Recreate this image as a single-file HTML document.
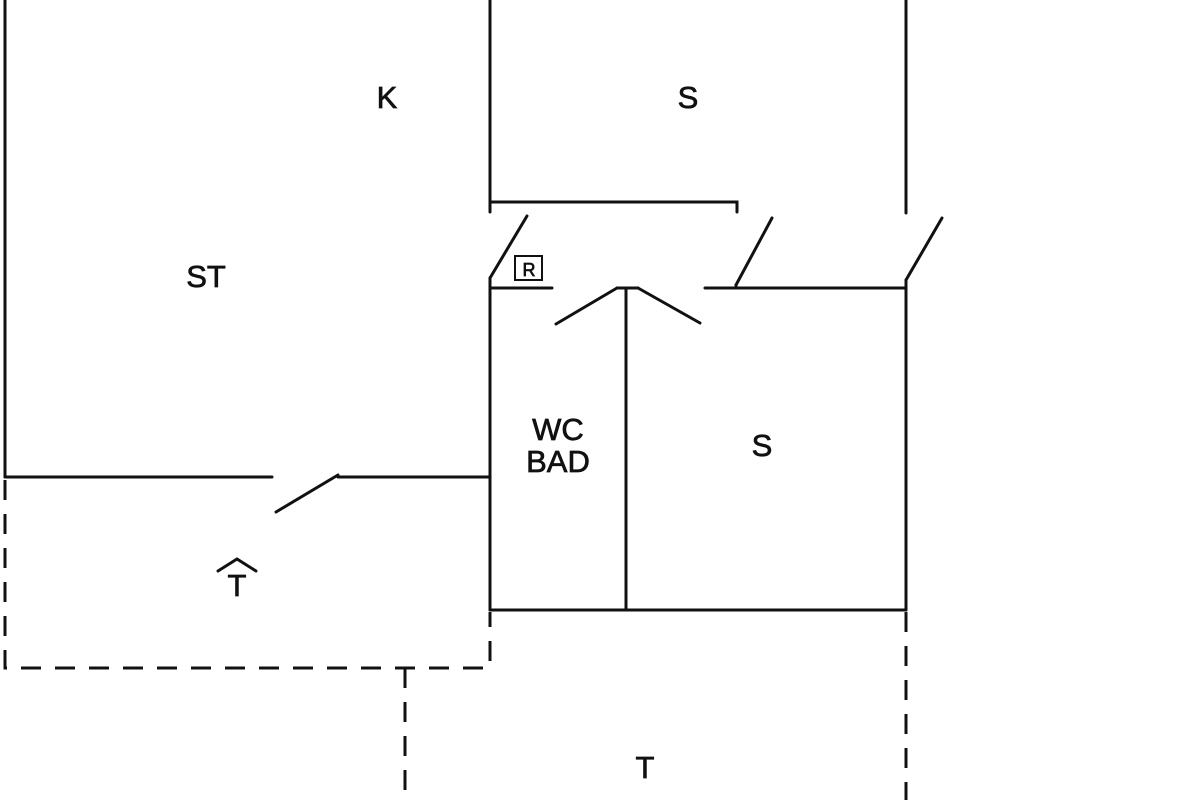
<!DOCTYPE html>
<html><head><meta charset="utf-8"><style>
html,body{margin:0;padding:0;background:#fff;width:1200px;height:800px;overflow:hidden}
text{font-family:"Liberation Sans",sans-serif;font-size:31px;fill:#111;stroke:#111;stroke-width:0.7;text-anchor:middle}
</style></head><body>
<svg width="1200" height="800" viewBox="0 0 1200 800" xmlns="http://www.w3.org/2000/svg">
<g stroke="#111" stroke-width="3" fill="none" stroke-linecap="round">
<line x1="5" y1="0" x2="5" y2="477"/>
<line x1="490" y1="0" x2="490" y2="210"/>
<polyline points="490,212 490,202 737,202 737,212"/>
<line x1="906" y1="0" x2="906" y2="213"/>
<line x1="490" y1="278" x2="527" y2="216"/>
<line x1="490" y1="278" x2="490" y2="610"/>
<line x1="490" y1="288" x2="552" y2="288"/>
<line x1="617" y1="288" x2="638" y2="288"/>
<line x1="617" y1="288" x2="556" y2="324"/>
<line x1="638" y1="288" x2="700" y2="323"/>
<line x1="626" y1="288" x2="626" y2="610"/>
<line x1="705" y1="288" x2="906" y2="288"/>
<line x1="736" y1="285" x2="736" y2="288"/>
<line x1="736" y1="285" x2="772" y2="218"/>
<line x1="906" y1="280" x2="942" y2="218"/>
<line x1="906" y1="280" x2="906" y2="610"/>
<line x1="490" y1="610" x2="906" y2="610"/>
<line x1="5" y1="477" x2="272" y2="477"/>
<line x1="276" y1="512" x2="338" y2="475"/>
<line x1="338" y1="477" x2="490" y2="477"/>
<polyline points="218,571 237,559 256,571"/>
</g>
<g stroke="#111" stroke-width="3" fill="none" stroke-dasharray="20,14">
<polyline points="5,480 5,668 490,668 490,612"/>
<line x1="405" y1="668" x2="405" y2="800"/>
<line x1="906" y1="612" x2="906" y2="800"/>
</g>
<rect x="515" y="256" width="27" height="24" fill="none" stroke="#111" stroke-width="2"/>
<text x="529" y="276" style="font-size:18px">R</text>
<text x="387" y="108">K</text>
<text x="688" y="108">S</text>
<text x="206" y="287">ST</text>
<text x="558" y="440">WC</text>
<text x="558" y="472">BAD</text>
<text x="762" y="456">S</text>
<text x="237" y="596">T</text>
<text x="645" y="778">T</text>
</svg>
</body></html>
